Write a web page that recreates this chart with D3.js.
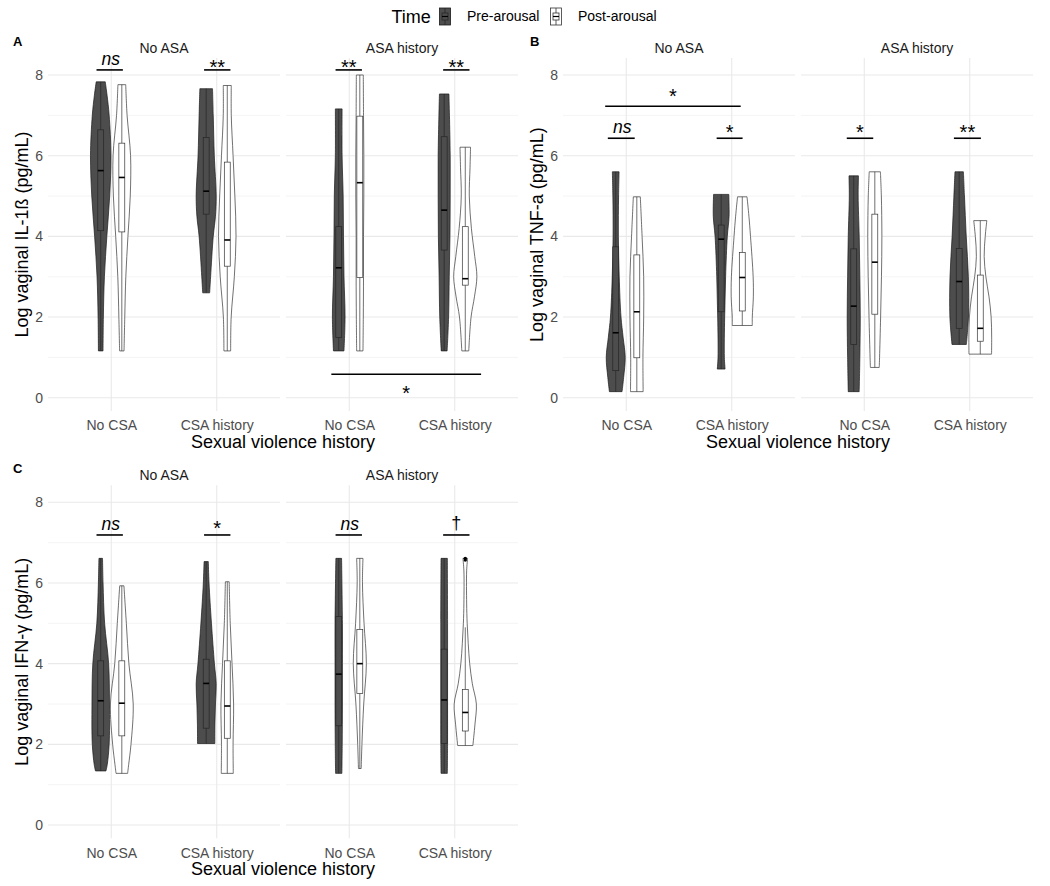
<!DOCTYPE html>
<html><head><meta charset="utf-8">
<script src="https://cdn.jsdelivr.net/npm/d3@7"></script>
<style>body{margin:0;background:#fff}svg{display:block}text{font-family:"Liberation Sans",Arial,Helvetica,sans-serif}</style>
</head><body><svg id="c" width="1050" height="886"></svg>
<script>
// ---------- data ----------
const asaFacets = ["No ASA", "ASA history"];
const csaCategories = ["No CSA", "CSA history"];
const times = ["Pre-arousal", "Post-arousal"];
const yTicks = [0, 2, 4, 6, 8];
const yMinorTicks = [1, 3, 5, 7];
const panelLetters = ["A", "B", "C"];
const yTitles = ["Log vaginal IL-1ß (pg/mL)", "Log vaginal TNF-a (pg/mL)", "Log vaginal IFN-γ (pg/mL)"];
const xTitle = "Sexual violence history";
const legendTitle = "Time";

// violin summaries: asa facet, csa category, time, whisker lo/hi, quartiles, density profile [value, density]
const il1bViolins = [
  {asa:0, csa:0, time:0, lo:1.16, q1:4.14, med:5.63, q3:6.64, hi:7.83, dens:[[1.16,2.2],[2,2.5],[3,3.5],[4,5.8],[5,8.5],[6,9.7],[7,8],[7.5,6],[7.83,4.3]]},
  {asa:0, csa:0, time:1, lo:1.16, q1:4.11, med:5.46, q3:6.31, hi:7.76, dens:[[1.16,2.1],[2,2.8],[3,3.8],[4,5.8],[5,8],[6,8.3],[7,5],[7.76,3.7]]},
  {asa:0, csa:1, time:0, lo:2.60, q1:4.55, med:5.12, q3:6.45, hi:7.66, dens:[[2.6,3.3],[3,4.2],[4,6.7],[4.5,8.8],[5,9.5],[6,7.7],[7,6.7],[7.66,6]]},
  {asa:0, csa:1, time:1, lo:1.16, q1:3.26, med:3.91, q3:5.84, hi:7.74, dens:[[1.16,3.2],[2,3.7],[3,6.7],[4,8.3],[5,7.2],[6,5.5],[7,3.8],[7.74,3.8]]},
  {asa:1, csa:0, time:0, lo:1.16, q1:1.49, med:3.22, q3:4.24, hi:7.16, dens:[[1.16,5],[2,6],[3,5],[4,4.5],[5,4.2],[6,3.2],[7.16,3.2]]},
  {asa:1, csa:0, time:1, lo:1.16, q1:2.98, med:5.33, q3:6.98, hi:8.00, dens:[[1.16,3],[2,3.3],[3,3.5],[4,3.5],[5,3.8],[6,3.8],[7,3.5],[8,3.3]]},
  {asa:1, csa:1, time:0, lo:1.16, q1:3.66, med:4.65, q3:6.47, hi:7.53, dens:[[1.16,2.8],[2,4.2],[3,4.8],[4,5.5],[5,5.7],[6,5.7],[7,5],[7.53,4.5]]},
  {asa:1, csa:1, time:1, lo:1.16, q1:2.79, med:2.95, q3:4.24, hi:6.21, dens:[[1.16,3.3],[2,5.5],[2.5,8.7],[3,11],[3.5,9],[4.2,5.8],[5,3.8],[5.7,4.5],[6.21,5]]}
];
const tnfViolins = [
  {asa:0, csa:0, time:0, lo:0.15, q1:0.67, med:1.61, q3:3.74, hi:5.60, dens:[[0.15,6],[0.5,7.5],[1,9],[1.5,7],[2,5],[3,3.3],[4,2.5],[5,2.7],[5.6,3.2]]},
  {asa:0, csa:0, time:1, lo:0.15, q1:0.99, med:2.13, q3:3.54, hi:4.98, dens:[[0.15,6],[1,5.8],[2,6.5],[3,6.5],[4,5],[4.98,3.3]]},
  {asa:0, csa:1, time:0, lo:0.71, q1:2.13, med:3.93, q3:4.28, hi:5.04, dens:[[0.71,3.7],[1,3],[2,3.3],[3,4.2],[4,5.8],[4.5,7.5],[5.04,7.2]]},
  {asa:0, csa:1, time:1, lo:1.79, q1:2.15, med:2.98, q3:3.60, hi:4.98, dens:[[1.79,9.5],[2,9.5],[2.5,10.5],[3,10.3],[4,7.8],[4.5,6.3],[4.98,4.5]]},
  {asa:1, csa:0, time:0, lo:0.15, q1:1.32, med:2.27, q3:3.69, hi:5.50, dens:[[0.15,5.2],[1,5.8],[2,6.2],[3,5.8],[4,5.2],[5,4.2],[5.5,4.5]]},
  {asa:1, csa:0, time:1, lo:0.75, q1:2.07, med:3.36, q3:4.55, hi:5.60, dens:[[0.75,4.2],[1,4.5],[2,5.5],[3,6.3],[4,6.7],[5,6.2],[5.6,5.3]]},
  {asa:1, csa:1, time:0, lo:1.32, q1:1.72, med:2.88, q3:3.70, hi:5.60, dens:[[1.32,6.8],[2,8.8],[3,8.7],[4,6.7],[5,5],[5.6,4]]},
  {asa:1, csa:1, time:1, lo:1.08, q1:1.40, med:1.72, q3:3.04, hi:4.39, dens:[[1.08,10.7],[1.5,10.8],[2,10.3],[2.5,8.3],[3,5.3],[3.5,3.7],[4,4.7],[4.39,6.2]]}
];
const ifnViolins = [
  {asa:0, csa:0, time:0, lo:1.34, q1:2.21, med:3.08, q3:4.07, hi:6.61, dens:[[1.34,5],[1.5,6.2],[2,8],[3,8.3],[4,7.5],[5,3.7],[6,2.2],[6.61,1.7]]},
  {asa:0, csa:0, time:1, lo:1.28, q1:2.21, med:3.02, q3:4.07, hi:5.93, dens:[[1.28,5.5],[1.5,6.5],[2,8.7],[3,10.8],[4,6.7],[5,4.3],[5.93,2]]},
  {asa:0, csa:1, time:0, lo:2.02, q1:2.40, med:3.51, q3:4.11, hi:6.53, dens:[[2.02,8.2],[2.5,8.3],[3,8.8],[3.5,9.5],[4,7.8],[5,5],[6,2.7],[6.53,2]]},
  {asa:0, csa:1, time:1, lo:1.28, q1:2.15, med:2.95, q3:4.07, hi:6.03, dens:[[1.28,5.7],[2,5.5],[3,6],[4,4.5],[5,2.8],[6.03,1.8]]},
  {asa:1, csa:0, time:0, lo:1.28, q1:2.46, med:3.74, q3:5.17, hi:6.61, dens:[[1.28,3],[2,3.3],[3,3.5],[4,3.5],[5,3.5],[6.61,2.7]]},
  {asa:1, csa:0, time:1, lo:1.40, q1:3.26, med:4.00, q3:4.85, hi:6.61, dens:[[1.4,1.3],[2,2],[3,3.7],[4,6.2],[5,4],[6,2.5],[6.61,3]]},
  {asa:1, csa:1, time:0, lo:1.28, q1:2.02, med:3.10, q3:4.36, hi:6.61, dens:[[1.28,3],[2,3.2],[3,3.2],[4,3.2],[5,3.2],[6.61,3]]},
  {asa:1, csa:1, time:1, lo:1.97, q1:2.33, med:2.79, q3:3.36, hi:4.90, dens:[[1.97,7.2],[2.5,9.2],[3,10.5],[3.5,6.7],[4,4.2],[4.5,2.8],[5,1.8],[5.5,1.3],[6.3,1.3],[6.61,2.2]]}
];
const ifnOutliers = [
  {asa:1, csa:1, time:1, value:6.61},
  {asa:1, csa:1, time:1, value:6.57}
];

// significance brackets: x in category units (1 = No CSA, 2 = CSA history)
const il1bSignif = [
  {asa:0, x1:0.86, x2:1.11, y:8.126, labelY:8.247, label:"ns"},
  {asa:0, x1:1.88, x2:2.13, y:8.126, labelY:8.247, label:"**"},
  {asa:1, x1:0.87, x2:1.12, y:8.126, labelY:8.247, label:"**"},
  {asa:1, x1:1.89, x2:2.14, y:8.126, labelY:8.247, label:"**"},
  {asa:1, x1:0.83, x2:2.25, y:0.580, labelY:0.149, label:"*"}
];
const tnfSignif = [
  {asa:0, x1:0.80, x2:2.085, y:7.225, labelY:7.53, label:"*"},
  {asa:0, x1:0.825, x2:1.08, y:6.432, labelY:6.556, label:"ns"},
  {asa:0, x1:1.857, x2:2.103, y:6.432, labelY:6.638, label:"*"},
  {asa:1, x1:0.834, x2:1.085, y:6.432, labelY:6.638, label:"*"},
  {asa:1, x1:1.85, x2:2.106, y:6.432, labelY:6.638, label:"**"}
];
const ifnSignif = [
  {asa:0, x1:0.86, x2:1.11, y:7.19, labelY:7.314, label:"ns"},
  {asa:0, x1:1.88, x2:2.13, y:7.19, labelY:7.397, label:"*"},
  {asa:1, x1:0.87, x2:1.12, y:7.19, labelY:7.314, label:"ns"},
  {asa:1, x1:1.89, x2:2.14, y:7.19, labelY:7.33, label:"†"}
];

// ---------- drawing ----------
const svg = d3.select("#c");
svg.append("rect").attr("width", 1050).attr("height", 886).attr("fill", "#fff");

const FILL = ["#4d4d4d", "#ffffff"];
const STROKE = ["#1a1a1a", "#333333"];
const BOXSTROKE = ["#262626", "#333333"];

const panels = [
  {violins: il1bViolins, outliers: [], signif: il1bSignif, fx: [[48,280],[286,518]], yr: [397.7, 75], lx: 13, ly: 46, tx: 28},
  {violins: tnfViolins, outliers: [], signif: tnfSignif, fx: [[563,795],[801,1033]], yr: [397.7, 75], lx: 530, ly: 46, tx: 543},
  {violins: ifnViolins, outliers: ifnOutliers, signif: ifnSignif, fx: [[48,280],[286,518]], yr: [825, 502.3], lx: 13, ly: 473, tx: 28}
];

const dodge = d3.scalePoint().domain(times).range([-0.1, 0.1]);

panels.forEach((p, pi) => {
  const g = svg.append("g");
  const y = d3.scaleLinear().domain([0, 8]).range(p.yr);
  const top = y(8.42), bot = y(-0.33);

  asaFacets.forEach((facet, fi) => {
    const [fx0, fx1] = p.fx[fi];
    const x = d3.scaleLinear().domain([0.4, 2.6]).range([fx0, fx1]);
    const xp = d3.scalePoint().domain(csaCategories).range([x(1), x(2)]);
    const fg = g.append("g");

    // grid
    fg.selectAll(".mn").data(yMinorTicks).join("line")
      .attr("x1", fx0).attr("x2", fx1).attr("y1", d => y(d)).attr("y2", d => y(d))
      .attr("stroke", "#f1f1f1").attr("stroke-width", 0.8);
    fg.selectAll(".mj").data(yTicks).join("line")
      .attr("x1", fx0).attr("x2", fx1).attr("y1", d => y(d)).attr("y2", d => y(d))
      .attr("stroke", "#e9e9e9").attr("stroke-width", 1.1);
    fg.selectAll(".vx").data(csaCategories).join("line")
      .attr("x1", d => xp(d)).attr("x2", d => xp(d)).attr("y1", top).attr("y2", bot)
      .attr("stroke", "#e9e9e9").attr("stroke-width", 1.1);

    // strip
    fg.append("text").attr("x", (fx0 + fx1) / 2).attr("y", top - 5)
      .attr("text-anchor", "middle").attr("font-size", 14).attr("fill", "#1a1a1a").text(facet);

    // x axis labels
    const xa = fg.append("g").attr("transform", `translate(0,${bot})`)
      .call(d3.axisBottom(xp).tickSize(0).tickPadding(9.5));
    xa.select(".domain").remove();
    xa.selectAll("text").attr("font-size", 14).attr("fill", "#4d4d4d");
    xa.attr("font-family", null).attr("font-size", null);

    // y axis labels
    if (fi === 0) {
      const ya = fg.append("g").attr("transform", `translate(${fx0},0)`)
        .call(d3.axisLeft(y).tickValues(yTicks).tickSize(0).tickPadding(5).tickFormat(d3.format("d")));
      ya.select(".domain").remove();
      ya.selectAll("text").attr("font-size", 14).attr("fill", "#4d4d4d");
      ya.attr("font-family", null).attr("font-size", null);
    }

    const wu = d => x(1 + d * 0.01) - x(1);
    const boxHalf = x(1.028) - x(1);

    const vs = p.violins.filter(v => v.asa === fi);
    vs.forEach(v => {
      const cx = x(v.csa + 1 + dodge(times[v.time]));
      const area = d3.area().curve(d3.curveCatmullRom.alpha(0.5))
        .y(d => y(d[0])).x0(d => cx - wu(d[1])).x1(d => cx + wu(d[1]));
      fg.append("path").attr("d", area(v.dens))
        .attr("fill", FILL[v.time]).attr("stroke", STROKE[v.time]).attr("stroke-width", 0.7);
    });
    vs.forEach(v => {
      const cx = x(v.csa + 1 + dodge(times[v.time]));
      const s = BOXSTROKE[v.time];
      fg.append("line").attr("x1", cx).attr("x2", cx).attr("y1", y(v.lo)).attr("y2", y(v.q1))
        .attr("stroke", s).attr("stroke-width", 0.7);
      fg.append("line").attr("x1", cx).attr("x2", cx).attr("y1", y(v.q3)).attr("y2", y(v.hi))
        .attr("stroke", s).attr("stroke-width", 0.7);
      fg.append("rect").attr("x", cx - boxHalf).attr("width", boxHalf * 2)
        .attr("y", y(v.q3)).attr("height", y(v.q1) - y(v.q3))
        .attr("fill", FILL[v.time]).attr("stroke", s).attr("stroke-width", 0.7);
      fg.append("line").attr("x1", cx - boxHalf).attr("x2", cx + boxHalf)
        .attr("y1", y(v.med)).attr("y2", y(v.med)).attr("stroke", "#000").attr("stroke-width", 1.6);
    });
    p.outliers.filter(o => o.asa === fi).forEach(o => {
      const cx = x(o.csa + 1 + dodge(times[o.time]));
      fg.append("circle").attr("cx", cx).attr("cy", y(o.value)).attr("r", 1.7).attr("fill", "#000");
    });

    // significance
    p.signif.filter(s => s.asa === fi).forEach(s => {
      fg.append("line").attr("x1", x(s.x1)).attr("x2", x(s.x2)).attr("y1", y(s.y)).attr("y2", y(s.y))
        .attr("stroke", "#000").attr("stroke-width", 1.6);
      const isStar = s.label.startsWith("*");
      const fs = isStar ? 20 : (s.label === "ns" ? 17.5 : 18);
      const base = isStar ? y(s.labelY) + 0.43 * fs : y(s.labelY);
      fg.append("text").attr("x", (x(s.x1) + x(s.x2)) / 2 + (s.label === "ns" ? 1 : 0)).attr("y", base)
        .attr("text-anchor", "middle").attr("font-size", fs)
        .attr("font-style", s.label === "ns" ? "italic" : "normal").attr("fill", "#000").text(s.label);
    });
  });

  // titles
  const cxAll = (p.fx[0][0] + p.fx[1][1]) / 2;
  g.append("text").attr("x", cxAll).attr("y", bot + 36.5).attr("text-anchor", "middle")
    .attr("font-size", 18).attr("fill", "#000").text(xTitle);
  g.append("text").attr("transform", `translate(${p.tx},${(top + bot) / 2}) rotate(-90)`)
    .attr("text-anchor", "middle").attr("font-size", 18).attr("fill", "#000").text(yTitles[pi]);
  g.append("text").attr("x", p.lx).attr("y", p.ly).attr("font-size", 13).attr("font-weight", "bold")
    .attr("fill", "#000").text(panelLetters[pi]);
});

// legend
const lg = svg.append("g");
lg.append("text").attr("x", 391.5).attr("y", 22.5).attr("font-size", 18).attr("fill", "#000").text(legendTitle);
const keyX = d3.scalePoint().domain(times).range([439.5, 550.5]);
times.forEach((t, i) => {
  const kx = keyX(t), ky = 8, kw = 11, kh = 17;
  lg.append("rect").attr("x", kx).attr("y", ky).attr("width", kw).attr("height", kh)
    .attr("fill", FILL[i]).attr("stroke", STROKE[i]).attr("stroke-width", 0.8);
  lg.append("rect").attr("x", kx + 2.5).attr("y", ky + 5).attr("width", kw - 5).attr("height", kh - 10)
    .attr("fill", FILL[i]).attr("stroke", BOXSTROKE[i]).attr("stroke-width", 0.8);
  lg.append("line").attr("x1", kx + kw / 2).attr("x2", kx + kw / 2).attr("y1", ky).attr("y2", ky + 5)
    .attr("stroke", BOXSTROKE[i]).attr("stroke-width", 0.8);
  lg.append("line").attr("x1", kx + kw / 2).attr("x2", kx + kw / 2).attr("y1", ky + kh - 5).attr("y2", ky + kh)
    .attr("stroke", BOXSTROKE[i]).attr("stroke-width", 0.8);
  lg.append("line").attr("x1", kx + 2.5).attr("x2", kx + kw - 2.5).attr("y1", ky + kh / 2).attr("y2", ky + kh / 2)
    .attr("stroke", "#000").attr("stroke-width", 1.2);
  lg.append("text").attr("x", kx + 27.5).attr("y", 21).attr("font-size", 14).attr("fill", "#000").text(t);
});
</script></body></html>
